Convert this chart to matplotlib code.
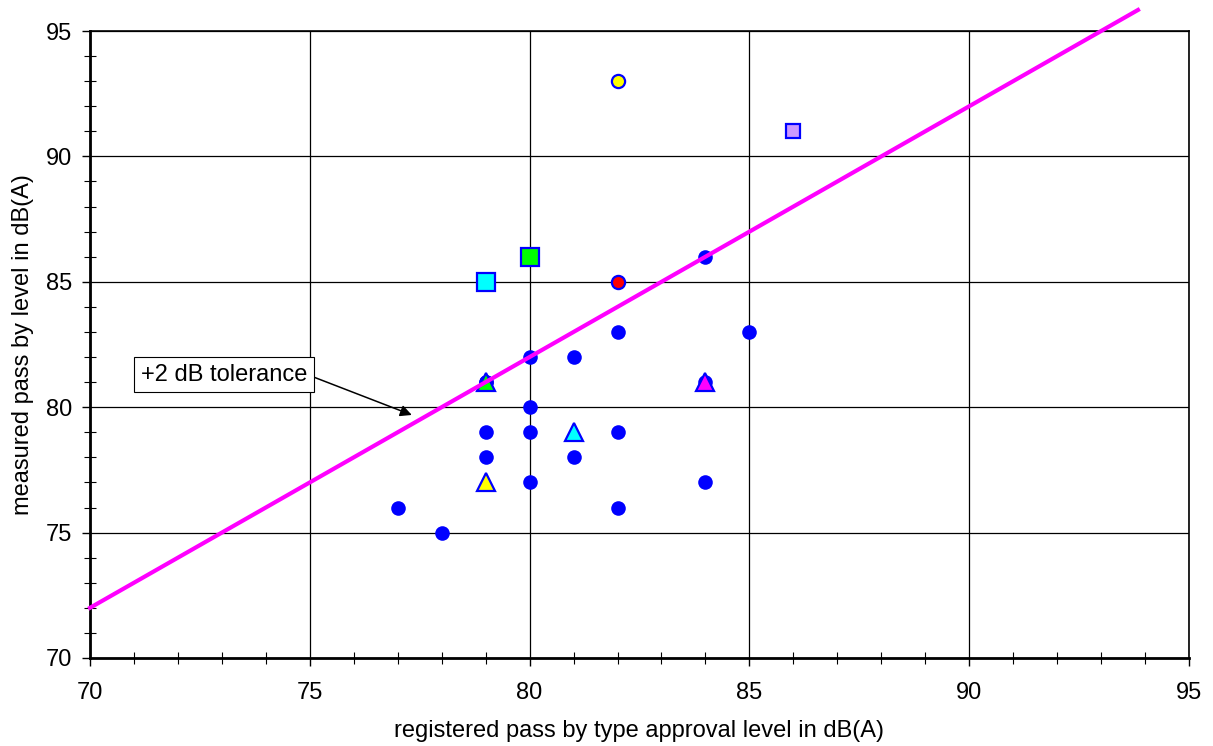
import numpy as np
import matplotlib.pyplot as plt
from matplotlib.ticker import MultipleLocator

plt.rcParams["font.family"] = ["Liberation Sans", "DejaVu Sans"]

# vehicles measured in service: registered (type approval) vs measured pass-by level
reg_levels = [77, 78, 79, 79, 79, 80, 80, 80, 80, 81, 81, 82, 82, 82, 84, 84, 85, 79, 84]
meas_levels = [76, 75, 79, 78, 81, 82, 80, 79, 77, 82, 78, 83, 79, 76, 86, 77, 83, 81, 81]

# individually highlighted vehicles: (x, y, marker, face colour, size)
special_x = [82, 86, 80, 79, 82, 79, 84, 81, 79]
special_y = [93, 91, 86, 85, 85, 81, 81, 79, 77]
special_marker = ["o", "s", "s", "s", "o", "^", "^", "^", "^"]
special_face = ["#FFFF00", "#CC99FF", "#00FF00", "#00FFFF", "#FF0000",
                "#00FF00", "#FF00FF", "#00FFFF", "#FFFF00"]
special_size = [9.5, 10.5, 12.5, 12.5, 9.5, 12.5, 12.5, 12.5, 12.5]

tolerance = 2
line_x = np.array([70, 93.84])
line_y = line_x + tolerance

fig = plt.figure(figsize=(12.13, 7.46), dpi=100)
ax = fig.add_axes([0.0742, 0.118, 0.906, 0.8404])

ax.plot(reg_levels, meas_levels, "o", color="#0000FF", markersize=10.5,
        markeredgewidth=0, zorder=3)

for x, y, m, fc, s in zip(special_x, special_y, special_marker, special_face, special_size):
    ax.plot(x, y, m, markerfacecolor=fc, markeredgecolor="#0000FF",
            markersize=s, markeredgewidth=1.6, zorder=4)

ax.plot(line_x, line_y, color="#FF00FF", linewidth=3, zorder=5, clip_on=False)

ax.annotate("+2 dB tolerance", xy=(77.32, 79.69), xytext=(73.05, 81.3),
            fontsize=17, ha="center", va="center",
            bbox=dict(boxstyle="square,pad=0.28", fc="white", ec="black", lw=0.8),
            arrowprops=dict(arrowstyle="-|>", color="black", lw=1.1,
                            mutation_scale=17, shrinkA=0, shrinkB=0,
                            relpos=(1.0, 0.5)),
            zorder=6)

ax.set_xlim(70, 95)
ax.set_ylim(70, 95)
ax.xaxis.set_major_locator(MultipleLocator(5))
ax.yaxis.set_major_locator(MultipleLocator(5))
ax.xaxis.set_minor_locator(MultipleLocator(1))
ax.yaxis.set_minor_locator(MultipleLocator(1))
ax.tick_params(which="major", direction="out", length=6, width=1, labelsize=17,
               color="black", pad=11)
ax.tick_params(which="minor", direction="inout", length=8, width=0.8, color="black")
ax.tick_params(axis="y", which="major", pad=7)

ax.grid(which="major", color="black", linewidth=0.9, zorder=1)
ax.set_axisbelow(True)
for side in ["left", "bottom"]:
    ax.spines[side].set_linewidth(2)
for side in ["top", "right"]:
    ax.spines[side].set_linewidth(1.2)

ax.set_xlabel("registered pass by type approval level in dB(A)", fontsize=17, labelpad=12)
ax.set_ylabel("measured pass by level in dB(A)", fontsize=17, labelpad=8)

fig.savefig("out.png", dpi=100)
